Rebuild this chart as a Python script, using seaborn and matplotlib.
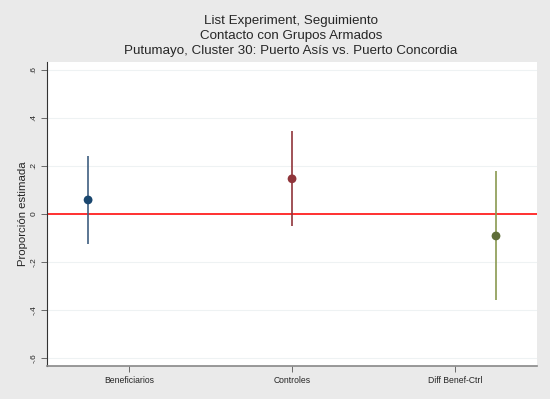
import numpy as np
import pandas as pd
import matplotlib
matplotlib.use('Agg')
import matplotlib.pyplot as plt
import seaborn as sns

# Datos
grupos = ['Beneficiarios', 'Controles', 'Diff Benef-Ctrl']
estimado = [0.058, 0.146, -0.092]
ci_inf = [-0.125, -0.050, -0.360]
ci_sup = [0.240, 0.346, 0.180]
colores = ['#1a476f', '#90353b', '#5f6e38']
colores_ci = ['#3f5f80', '#90353b', '#8a9a50']

sns.set_style('white')
plt.rcParams['font.family'] = ['Liberation Sans', 'DejaVu Sans']

df = pd.DataFrame({'grupo': grupos, 'est': estimado, 'lo': ci_inf, 'hi': ci_sup})
df['x'] = np.arange(len(df))

fig = plt.figure(figsize=(5.5, 3.99), dpi=100)
fig.patch.set_facecolor('#eaeaea')
ax = fig.add_axes([0.086, 0.083, 0.89, 0.762])
ax.set_facecolor('white')

# líneas de cuadrícula
for t in [-0.6, -0.4, -0.2, 0.2, 0.4, 0.6]:
    ax.axhline(t, color='#eef2f3', lw=0.8, zorder=0)
ax.axhline(0, color='#ff2020', lw=1.3, zorder=1)

ax.vlines(df['x'], df['lo'], df['hi'], colors=colores_ci, lw=1.2, zorder=2)
sns.scatterplot(data=df, x='x', y='est', hue='grupo', palette=colores,
                s=40, edgecolor='none', legend=False, ax=ax, zorder=3)

ax.set_xlim(-0.2, 2.2)
ax.set_ylim(-0.633, 0.633)
# en el original las etiquetas no quedan debajo de los puntos
ax.set_xticks([0.2, 1.0, 1.8])
ax.set_xticklabels(grupos, fontsize=6.2)
ax.set_yticks([-0.6, -0.4, -0.2, 0, 0.2, 0.4, 0.6])
ax.set_yticklabels(['-.6', '-.4', '-.2', '0', '.2', '.4', '.6'], fontsize=6, rotation=90, va='center')
ax.tick_params(axis='both', length=4, width=0.6, color='#555555', pad=3, direction='out', left=True, bottom=True)
ax.set_xlabel('')
ax.set_ylabel('Proporción estimada', fontsize=8.2, labelpad=2)

for s in ['top', 'right']:
    ax.spines[s].set_visible(False)
ax.spines['left'].set_color('#333333')
ax.spines['left'].set_linewidth(0.8)
ax.spines['bottom'].set_color('#888888')
ax.spines['bottom'].set_linewidth(1.2)

fig.text(0.529, 0.947, 'List Experiment, Seguimiento', ha='center', va='center', fontsize=9.6)
fig.text(0.529, 0.910, 'Contacto con Grupos Armados', ha='center', va='center', fontsize=9.6)
fig.text(0.529, 0.872, 'Putumayo, Cluster 30: Puerto Asís vs. Puerto Concordia', ha='center', va='center', fontsize=9.6)

fig.savefig('out.png', dpi=100, facecolor=fig.get_facecolor())
